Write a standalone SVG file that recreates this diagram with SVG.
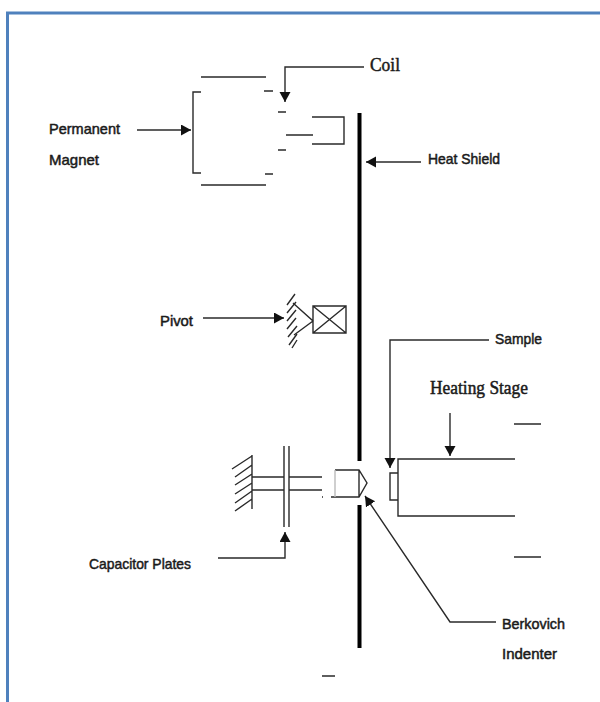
<svg xmlns="http://www.w3.org/2000/svg" width="600" height="702" viewBox="0 0 600 702">
<defs>
<marker id="a" markerUnits="userSpaceOnUse" markerWidth="12" markerHeight="12" refX="10" refY="5.500" orient="auto"><path d="M0 0L10 5.500L0 11z" fill="#111"/></marker>
</defs>
<style>
.l{stroke:#2a2a2a;stroke-width:1.400;fill:none}
.c{stroke:#2a2a2a;stroke-width:1.400;fill:none;marker-end:url(#a)}
.t{font-family:"Liberation Sans",sans-serif;font-size:15px;fill:#1a1a1a;stroke:#1a1a1a;stroke-width:.5}
.h{font-family:"Liberation Serif",serif;font-size:19px;fill:#1a1a1a;stroke:#1a1a1a;stroke-width:.5}
</style>
<rect width="600" height="702" fill="#fff"/>
<path id="frame" d="M7.500 702V13H600" fill="none" stroke="#4f81bd" stroke-width="3"/>
<g id="shield"><path d="M359.500 113V461M359.500 505V648" stroke="#000" stroke-width="4" fill="none"/></g>
<g id="magnet"><path class="l" d="M201 77H266M201 185H266M201 92H193V173H201M264 91H273M265 174H273M278 112H286M278 150H286M286 135H313M312 117H344V144H312"/></g>
<g id="pivot"><path class="l" d="M313 306H346V333H313zM313 306L346 333M346 306L313 333M293 303L313 321L294 335"/><path class="l" d="M295 294L287 305M296 302L287 313M296 310L287 321M296 318L287 329M297 326L288 337M297 334L289 345M297 340L292 348"/></g>
<g id="capacitor"><path class="l" d="M252 455V509M252 456L232 469M252 465L235 477M252 474L235 485M252 483L235 494M252 491L235 503M252 499L235 511M252 477H284M252 490H284M284 446V527M289 446V527M289 477H322M289 490H322M322 497H323"/></g>
<g id="indenter"><path class="l" d="M335 470H359L367 483L359 497H331M359 470V497"/><path d="M335 470V497" stroke="#bbb" stroke-width="1.400" fill="none"/></g>
<g id="stage"><path class="l" d="M515 459H398V516H515M398 473H390V500H398M514 424H541M514 557H541M322 676H335"/></g>
<g id="connectors">
<path class="c" d="M364 67H285V102"/>
<path class="c" d="M137 130H191"/>
<path class="c" d="M421 162H366"/>
<path class="c" d="M203 318H284"/>
<path class="c" d="M489 340H390V468"/>
<path class="c" d="M450 413V456"/>
<path class="c" d="M218 558H285V532"/>
<path class="c" d="M496 622H450L365 496"/>
</g>
<g id="labels">
<text class="h" x="370" y="71" textLength="30" lengthAdjust="spacingAndGlyphs">Coil</text>
<text class="t" x="49" y="134" textLength="71" lengthAdjust="spacingAndGlyphs">Permanent</text>
<text class="t" x="49" y="165" textLength="50" lengthAdjust="spacingAndGlyphs">Magnet</text>
<text class="t" x="428" y="164" textLength="72" lengthAdjust="spacingAndGlyphs">Heat Shield</text>
<text class="t" x="160" y="326" textLength="33" lengthAdjust="spacingAndGlyphs">Pivot</text>
<text class="t" x="495" y="344" textLength="47" lengthAdjust="spacingAndGlyphs">Sample</text>
<text class="h" x="430" y="394" textLength="98" lengthAdjust="spacingAndGlyphs">Heating Stage</text>
<text class="t" x="89" y="569" textLength="102" lengthAdjust="spacingAndGlyphs">Capacitor Plates</text>
<text class="t" x="502" y="629" textLength="63" lengthAdjust="spacingAndGlyphs">Berkovich</text>
<text class="t" x="502" y="659" textLength="55" lengthAdjust="spacingAndGlyphs">Indenter</text>
</g>
</svg>
